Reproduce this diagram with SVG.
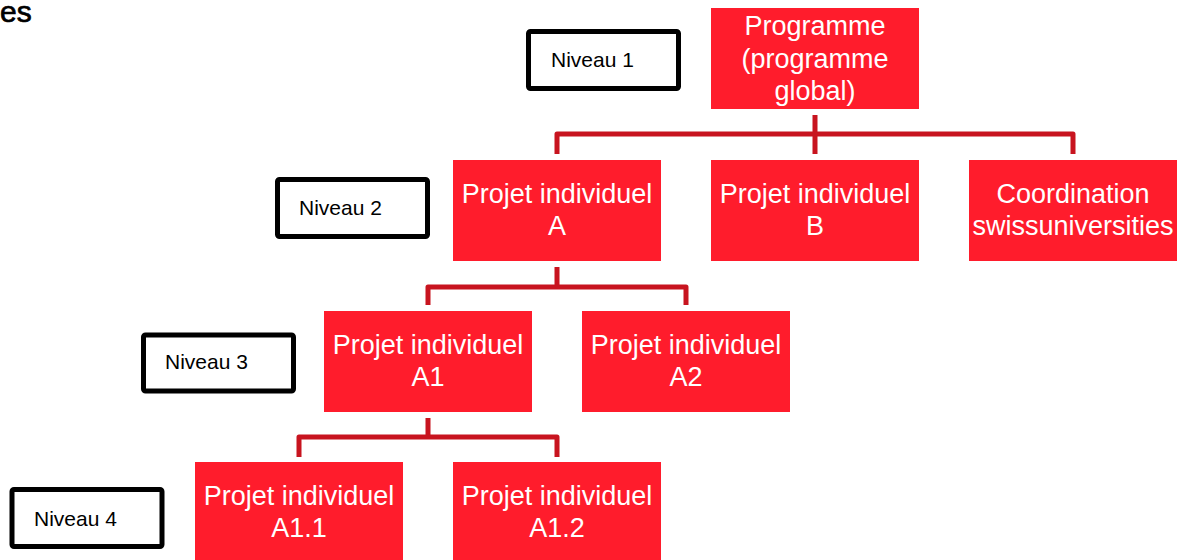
<svg xmlns="http://www.w3.org/2000/svg" width="1190" height="560" viewBox="0 0 1190 560">
<style>
.box{fill:#ff1c2c}
.bt{font-family:"Liberation Sans",Arial,sans-serif;font-size:27px;fill:#ffffff;text-anchor:middle}
.lv{fill:#ffffff;stroke:#000000;stroke-width:5;}
.lt{font-family:"Liberation Sans",Arial,sans-serif;font-size:21px;fill:#000000}
.con{fill:none;stroke:#c8141f;stroke-width:5;stroke-linejoin:round}
</style>
<rect width="1190" height="560" fill="#ffffff"/>
<text x="0" y="22" font-family="Liberation Sans,Arial,sans-serif" font-size="30" fill="#000" stroke="#000" stroke-width="0.7">es</text>
<g id="connectors">
<path class="con" d="M815 115V134M557 154V134H1073V154M815 134V154"/>
<path class="con" d="M557 267V287M428 305V287H686V305"/>
<path class="con" d="M428 418V437M299 457V437H557V457"/>
</g>
<g id="niveau1"><rect class="lv" x="528.5" y="31.5" width="150" height="57" rx="2"/><text class="lt" x="551" y="67">Niveau 1</text></g>
<g id="niveau2"><rect class="lv" x="277.5" y="179.5" width="150" height="57" rx="2"/><text class="lt" x="299" y="215">Niveau 2</text></g>
<g id="niveau3"><rect class="lv" x="143.5" y="335" width="150" height="56" rx="2"/><text class="lt" x="165" y="369">Niveau 3</text></g>
<g id="niveau4"><rect class="lv" x="12" y="489.5" width="150" height="57" rx="2"/><text class="lt" x="34" y="526">Niveau 4</text></g>
<g id="programme"><rect class="box" x="711" y="8" width="208" height="101"/><text class="bt" x="815" y="35">Programme</text><text class="bt" x="815" y="68">(programme</text><text class="bt" x="815" y="100">global)</text></g>
<g id="projetA"><rect class="box" x="453" y="160" width="208" height="101"/><text class="bt" x="557" y="203">Projet individuel</text><text class="bt" x="557" y="235">A</text></g>
<g id="projetB"><rect class="box" x="711" y="160" width="208" height="101"/><text class="bt" x="815" y="203">Projet individuel</text><text class="bt" x="815" y="235">B</text></g>
<g id="coordination"><rect class="box" x="969" y="160" width="208" height="101"/><text class="bt" x="1073" y="203">Coordination</text><text class="bt" x="1073" y="235">swissuniversities</text></g>
<g id="projetA1"><rect class="box" x="324" y="311" width="208" height="101"/><text class="bt" x="428" y="354">Projet individuel</text><text class="bt" x="428" y="386">A1</text></g>
<g id="projetA2"><rect class="box" x="582" y="311" width="208" height="101"/><text class="bt" x="686" y="354">Projet individuel</text><text class="bt" x="686" y="386">A2</text></g>
<g id="projetA11"><rect class="box" x="195" y="462" width="208" height="110"/><text class="bt" x="299" y="505">Projet individuel</text><text class="bt" x="299" y="537">A1.1</text></g>
<g id="projetA12"><rect class="box" x="453" y="462" width="208" height="110"/><text class="bt" x="557" y="505">Projet individuel</text><text class="bt" x="557" y="537">A1.2</text></g>
</svg>
